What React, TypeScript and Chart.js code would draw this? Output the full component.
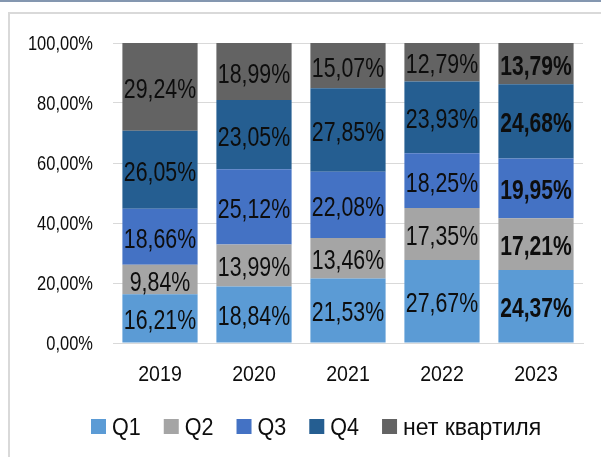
import React, { useEffect, useRef } from "react";
import { Chart, registerables } from "chart.js";

Chart.register(...registerables);

const years = ["2019", "2020", "2021", "2022", "2023"];
const seriesNames = ["Q1", "Q2", "Q3", "Q4", "нет квартиля"];
const q1 = [16.21, 18.84, 21.53, 27.67, 24.37];
const q2 = [9.84, 13.99, 13.46, 17.35, 17.21];
const q3 = [18.66, 25.12, 22.08, 18.25, 19.95];
const q4 = [26.05, 23.05, 27.85, 23.93, 24.68];
const noQ = [29.24, 18.99, 15.07, 12.79, 13.79];
const colors = ["#5B9BD5", "#A5A5A5", "#4472C4", "#255E91", "#636363"];
const yTicks = [0, 20, 40, 60, 80, 100];
const boldIndex = 4;

const FAMILY = "'Liberation Sans', Arial, sans-serif";
const TEXT = "#0d0d0d";

const fmt = (v: number) => v.toFixed(2).replace(".", ",") + "%";

function drawNarrow(ctx: any, text: string, x: number, y: number, font: string, sx: number, align: string) {
  ctx.save();
  ctx.font = font;
  ctx.fillStyle = TEXT;
  ctx.textAlign = align;
  ctx.textBaseline = "alphabetic";
  ctx.translate(x, y);
  ctx.scale(sx, 1);
  ctx.fillText(text, 0, 0);
  ctx.restore();
}

const textPlugin = {
  id: "narrowText",
  afterDatasetsDraw(chart: any) {
    const ctx = chart.ctx;
    const area = chart.chartArea;
    // segment labels
    chart.data.datasets.forEach((ds: any, di: number) => {
      const meta = chart.getDatasetMeta(di);
      meta.data.forEach((bar: any, i: number) => {
        const mid = (bar.y + bar.base) / 2;
        const bold = i === boldIndex;
        drawNarrow(ctx, fmt(ds.data[i]), bar.x, mid + 11,
          (bold ? "bold " : "") + "27px " + FAMILY, bold ? 0.78 : 0.79, "center");
      });
    });
    // y ticks
    const ys = chart.scales.y;
    yTicks.forEach((v) => {
      drawNarrow(ctx, v.toFixed(2).replace(".", ",") + "%", area.left - 20, ys.getPixelForValue(v) + 7,
        "19.5px " + FAMILY, 0.845, "right");
    });
    // x ticks
    const xs = chart.scales.x;
    years.forEach((y, i) => {
      drawNarrow(ctx, y, xs.getPixelForValue(i), area.bottom + 38, "22.5px " + FAMILY, 0.87, "center");
    });
    // legend
    const lf = "24.5px " + FAMILY;
    ctx.save();
    ctx.font = lf;
    let x = 91;
    const boxTop = area.bottom + 76;
    seriesNames.forEach((n, k) => {
      const lsx = /[а-я]/i.test(n) ? 0.94 : 0.88;
      ctx.fillStyle = colors[k];
      ctx.fillRect(x, boxTop, 15, 15);
      x += 15 + 6;
      ctx.font = lf;
      const w = ctx.measureText(n).width * lsx;
      drawNarrow(ctx, n, x, boxTop + 16, lf, lsx, "left");
      x += w + 23;
    });
    ctx.restore();
  },
};

export default function App() {
  const ref = useRef<HTMLCanvasElement>(null);
  useEffect(() => {
    if (!ref.current) return;
    const data = [q1, q2, q3, q4, noQ];
    const chart = new Chart(ref.current, {
      type: "bar",
      data: {
        labels: years,
        datasets: data.map((d, k) => ({
          label: seriesNames[k],
          data: d,
          backgroundColor: colors[k],
          borderWidth: 0,
          barPercentage: 0.8,
          categoryPercentage: 1,
        })),
      },
      options: {
        animation: false,
        responsive: false,
        maintainAspectRatio: false,
        layout: { padding: { top: 43, right: 18, left: 0, bottom: 0 } },
        plugins: { legend: { display: false }, tooltip: { enabled: false } },
        scales: {
          x: {
            stacked: true,
            grid: { display: false, drawTicks: false },
            border: { display: true, color: "#D9D9D9", width: 1 },
            ticks: { display: false },
            afterFit: (s: any) => { s.height = 114; },
          },
          y: {
            stacked: true,
            min: 0,
            max: 100,
            afterBuildTicks: (s: any) => { s.ticks = yTicks.map((v) => ({ value: v })); },
            grid: { color: "#D9D9D9", lineWidth: 1, drawTicks: false },
            border: { display: false },
            ticks: { display: false },
            afterFit: (s: any) => { s.width = 113; },
          },
        },
      },
      plugins: [textPlugin],
    });
    return () => chart.destroy();
  }, []);

  return (
    <div style={{ position: "fixed", left: 0, top: 0, width: 601, height: 457, background: "#fff", overflow: "hidden" }}>
      <div style={{ position: "absolute", left: 0, top: 0, width: 601, height: 2, background: "#8497B0" }} />
      <div style={{ position: "absolute", left: 8, top: 12, width: 620, height: 480, borderTop: "2px solid #D9D9D9", borderLeft: "2px solid #D9D9D9" }} />
      <canvas ref={ref} width={601} height={457} style={{ position: "absolute", left: 0, top: 0 }} />
    </div>
  );
}
